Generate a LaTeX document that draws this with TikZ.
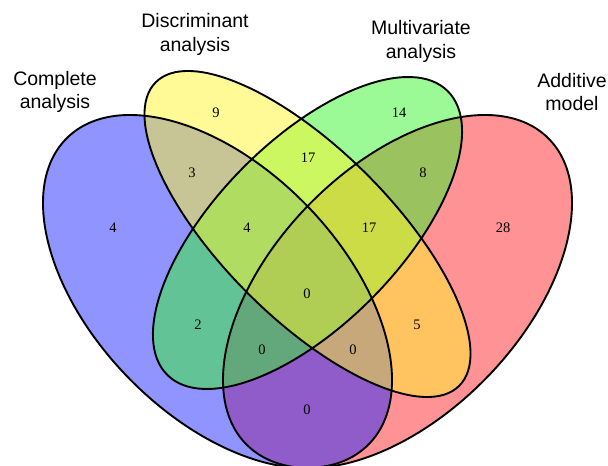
\documentclass[tikz,border=0pt]{standalone}
\usepackage{fontspec}
\setmainfont{Liberation Serif}
\newfontfamily\labfont{Liberation Sans}
\definecolor{cblue}{RGB}{33,41,255}
\definecolor{cred}{RGB}{255,37,41}
\definecolor{cyel}{RGB}{255,245,45}
\definecolor{cgrn}{RGB}{55,245,45}
\begin{document}
\begin{tikzpicture}[x=1pt,y=1pt,
  setfill/.style={fill opacity=0.5},
  outline/.style={draw=black, line width=1.9pt},
  setlabel/.style={font=\labfont\fontsize{19.5}{23.5}\selectfont, align=center, inner sep=0pt},
  count/.style={font=\fontsize{14.5}{15}\selectfont, inner sep=0pt}]
\useasboundingbox (0,0) rectangle (608,466);
\coordinate (cB) at (217.5,174.5);
\coordinate (cR) at (397.5,174.5);
\coordinate (cY) at (307.5,232);
\coordinate (cG) at (307.5,233);
% fills
\fill[cred,setfill] (cR) ellipse [x radius=215, y radius=124, rotate=45.65];
\fill[cblue,setfill] (cB) ellipse [x radius=215, y radius=124, rotate=-45.65];
\fill[cgrn,setfill] (cG) ellipse [x radius=199.5, y radius=91.7, rotate=45.4];
\fill[cyel,setfill] (cY) ellipse [x radius=214.6, y radius=84.1, rotate=-45];
% outlines
\draw[outline] (cR) ellipse [x radius=215, y radius=124, rotate=45.65];
\draw[outline] (cB) ellipse [x radius=215, y radius=124, rotate=-45.65];
\draw[outline] (cG) ellipse [x radius=199.5, y radius=91.7, rotate=45.4];
\draw[outline] (cY) ellipse [x radius=214.6, y radius=84.1, rotate=-45];
% set labels
\node[setlabel] (lB) at (55,374) {Complete\\analysis};
\node[setlabel] (lY) at (195,431.5) {Discriminant\\analysis};
\node[setlabel] (lG) at (421,424.5) {Multivariate\\analysis};
\node[setlabel] (lR) at (572,374) {Additive\\model};
% counts
\node[count] (n9) at (216,353) {9};
\node[count] (n14) at (399,353) {14};
\node[count] (n3) at (192,293) {3};
\node[count] (n17a) at (308,308) {17};
\node[count] (n8) at (423,293) {8};
\node[count] (n4a) at (113,238) {4};
\node[count] (n4b) at (247,238) {4};
\node[count] (n17b) at (369,238) {17};
\node[count] (n28) at (503,238) {28};
\node[count] (n0c) at (307,172) {0};
\node[count] (n2) at (198,141) {2};
\node[count] (n5) at (417,141) {5};
\node[count] (n0l) at (262,116) {0};
\node[count] (n0r) at (353,116) {0};
\node[count] (n0b) at (307,56) {0};
\end{tikzpicture}
\end{document}
